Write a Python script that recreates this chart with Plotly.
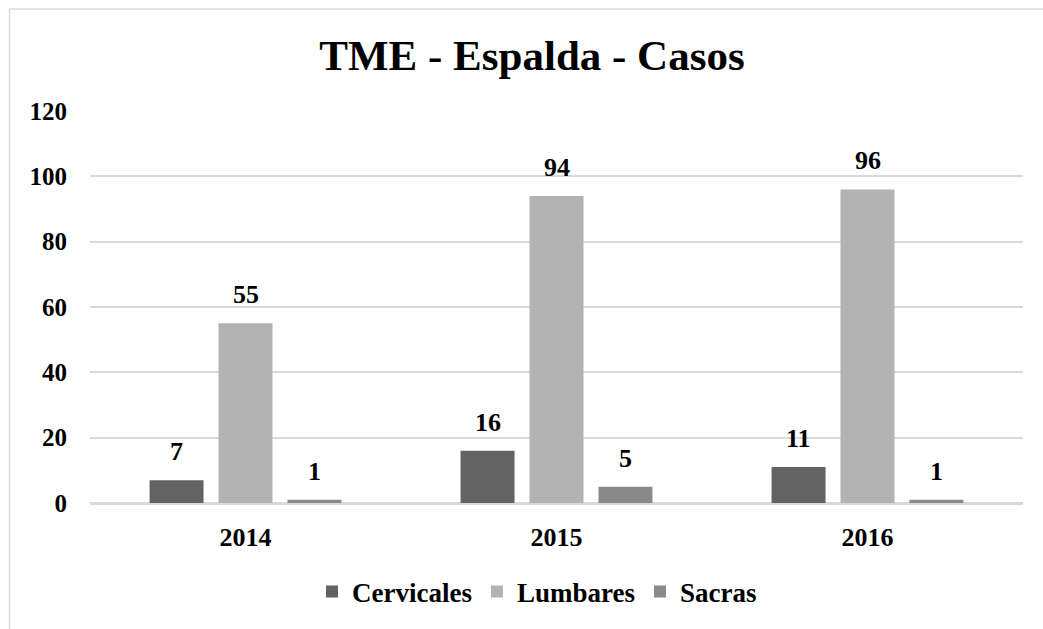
import plotly.graph_objects as go

years = ["2014", "2015", "2016"]
series_names = ["Cervicales", "Lumbares", "Sacras"]
cervicales = [7, 16, 11]
lumbares = [55, 94, 96]
sacras = [1, 5, 1]
colors = ["#636363", "#b3b3b3", "#8a8a8a"]
y_ticks = [0, 20, 40, 60, 80, 100, 120]

values = [cervicales, lumbares, sacras]
FONT = "Liberation Serif"

fig = go.Figure()
for name, vals, col in zip(series_names, values, colors):
    fig.add_trace(go.Bar(name=name, x=years, y=vals, marker=dict(color=col, line=dict(width=0))))

# data labels above bars
slot = 0.2215
for j, vals in enumerate(values):
    for i, v in enumerate(vals):
        fig.add_annotation(x=i + (j - 1) * slot, y=v, xref="x", yref="y", text=str(v),
                           showarrow=False, yanchor="bottom", yshift=12,
                           font=dict(family=FONT, size=26, color="black", weight="bold"))

L, R, T, B = 90, 20, 111, 126
W, H = 1043, 629
pw, ph = W - L - R, H - T - B
fig.add_shape(type="line", xref="paper", yref="paper",
              x0=(9.5 - L) / pw, x1=(9.5 - L) / pw, y0=(H - B - 700) / ph, y1=(H - B - 9) / ph,
              line=dict(color="#d9d9d9", width=1.5))
fig.add_shape(type="line", xref="paper", yref="paper",
              x0=(9.5 - L) / pw, x1=(1100 - L) / pw, y0=(H - B - 9) / ph, y1=(H - B - 9) / ph,
              line=dict(color="#d9d9d9", width=1.5))

fig.update_layout(
    width=W, height=H,
    margin=dict(l=L, r=R, t=T, b=B, autoexpand=False),
    paper_bgcolor="white", plot_bgcolor="white",
    barmode="group", bargap=0.335, bargroupgap=0.217,
    font=dict(family=FONT, size=26, color="black", weight="bold"),
    title=dict(text="TME - Espalda - Casos", x=532 / W, xanchor="center", xref="container",
               y=1 - 55 / H, yanchor="middle", yref="container",
               font=dict(family=FONT, size=43, color="black", weight="bold")),
    legend=dict(orientation="h", x=(537 - L) / pw, xanchor="center", y=(H - B - 592) / ph, yanchor="middle",
                font=dict(family=FONT, size=27, color="black", weight="bold"),
                traceorder="normal"),
    showlegend=True,
)
fig.update_xaxes(type="category", showgrid=False, showline=True, linecolor="#d9d9d9", linewidth=1.5,
                 ticks="", tickfont=dict(family=FONT, size=26, color="black", weight="bold"),
                 ticklabelstandoff=10)
fig.update_yaxes(range=[0, 120], tickvals=y_ticks, showgrid=True, gridcolor="#d9d9d9", gridwidth=1.5,
                 zeroline=True, zerolinecolor="#d9d9d9", zerolinewidth=1.5, showline=False,
                 ticks="", tickfont=dict(family=FONT, size=25, color="black", weight="bold"),
                 ticklabelstandoff=22)

fig.write_html("out.html", config={"displayModeBar": False},
               post_script="document.body.style.margin='0';")
